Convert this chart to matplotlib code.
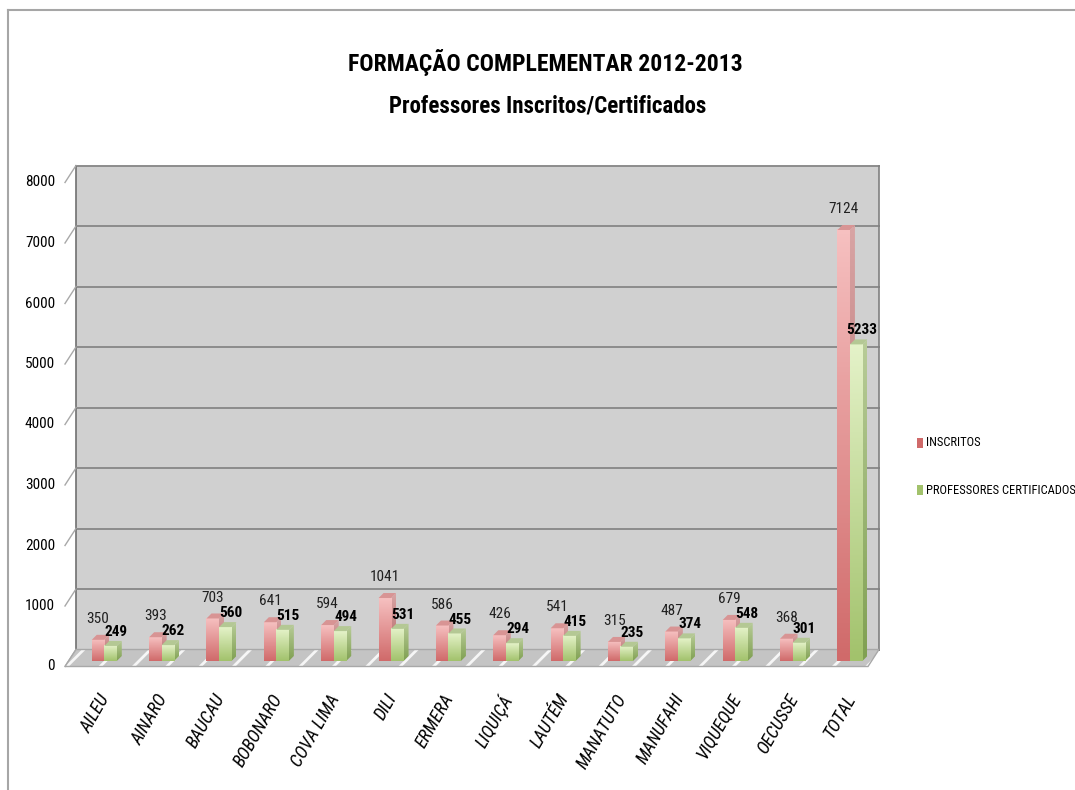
import numpy as np
import matplotlib.pyplot as plt
from matplotlib import font_manager
from matplotlib.patches import Polygon, Rectangle
from matplotlib.lines import Line2D
from matplotlib.colors import LinearSegmentedColormap

# narrow sans if available, otherwise the closest installed one
installed = {f.name for f in font_manager.fontManager.ttflist}
narrow = [f for f in ['Liberation Sans Narrow', 'Roboto Condensed', 'Open Sans Condensed',
                      'Noto Sans Condensed', 'Lato', 'Roboto'] if f in installed]
plt.rcParams['font.family'] = narrow[:1] + ['DejaVu Sans']
plt.rcParams['hatch.linewidth'] = 2.0

districts = ['AILEU', 'AINARO', 'BAUCAU', 'BOBONARO', 'COVA LIMA', 'DILI', 'ERMERA',
             'LIQUIÇÁ', 'LAUTÉM', 'MANATUTO', 'MANUFAHI', 'VIQUEQUE', 'OECUSSE', 'TOTAL']
inscritos = [350, 393, 703, 641, 594, 1041, 586, 426, 541, 315, 487, 679, 368, 7124]
certificados = [249, 262, 560, 515, 494, 531, 455, 294, 415, 235, 374, 548, 301, 5233]
y_ticks = [0, 1000, 2000, 3000, 4000, 5000, 6000, 7000, 8000]
series_names = ['INSCRITOS', 'PROFESSORES CERTIFICADOS']

W, H, DPI = 1075, 790, 100
fig = plt.figure(figsize=(W / DPI, H / DPI), dpi=DPI)

# axes cover the front plane of the bars (pixel rows/cols)
x0px, x1px = 67, 870
y0px, y1px = 661, 177
ax = fig.add_axes([x0px / W, 1 - y0px / H, (x1px - x0px) / W, (y0px - y1px) / H])
xmin, xmax, ymax = -0.65, 13.35, 8000
ax.axis('off')

sx = (x1px - x0px) / (xmax - xmin)
sy = (y0px - y1px) / ymax


def off(dxp, dyp):
    # pixel offset -> data offset
    return dxp / sx, dyp / sy


wx, wy = off(9, 11.5)     # back wall
fx, fy = off(-2, -5.5)    # front edge of floor / side wall
bdx, bdy = off(5, 5)      # bar depth
bw = 12.5 / sx            # bar width

# back wall + grid
ax.add_patch(Rectangle((xmin + wx, wy), xmax - xmin, ymax, facecolor='#d0d0d0',
                       edgecolor='none', zorder=0, clip_on=False))
for v in y_ticks:
    ax.add_line(Line2D([xmin + wx, xmax + wx], [v + wy, v + wy], color='#8c8c8c',
                       lw=1.4, zorder=1, clip_on=False))
ax.add_line(Line2D([xmin + wx, xmin + wx], [wy, ymax + wy], color='#707070', lw=1.2,
                   zorder=1, clip_on=False))
ax.add_line(Line2D([xmax + wx, xmax + wx], [wy, ymax + wy], color='#808080', lw=1.2,
                   zorder=1, clip_on=False))

# left side wall
ax.add_patch(Polygon([(xmin + fx, fy), (xmin + fx, ymax + fy), (xmin + wx, ymax + wy),
                      (xmin + wx, wy)], closed=True, facecolor='white', edgecolor='none',
                     zorder=0, clip_on=False))
for v in y_ticks:
    ax.add_line(Line2D([xmin + fx, xmin + wx], [v + fy, v + wy], color='#a8a8a8',
                       lw=1.0, zorder=1, clip_on=False))

# floor
floor = [(xmin + fx, fy), (xmax + fx, fy), (xmax + wx, wy), (xmin + wx, wy)]
ax.add_patch(Polygon(floor, closed=True, facecolor='#c4c4c4', edgecolor='#f6f6f6',
                     hatch='/', lw=0, zorder=1, clip_on=False))
ax.add_patch(Polygon(floor, closed=True, facecolor='none', edgecolor='#a8a8a8',
                     lw=1.0, zorder=1, clip_on=False))

styles = [
    dict(front=('#d06a6a', '#f6c0c0'), side=('#b06060', '#d8a4a4'), top='#d89494'),
    dict(front=('#a2c26c', '#e4f2c8'), side=('#80a052', '#b8cc98'), top='#b4c894'),
]
grad = np.linspace(0, 1, 64).reshape(-1, 1)


def draw_bar(x, v, st, z):
    cm_front = LinearSegmentedColormap.from_list('f', st['front'])
    cm_side = LinearSegmentedColormap.from_list('s', st['side'])
    ax.imshow(grad, extent=(x, x + bw, 0, v), origin='lower', cmap=cm_front,
              aspect='auto', interpolation='bilinear', zorder=z, clip_on=False)
    side = Polygon([(x + bw, 0), (x + bw + bdx, bdy), (x + bw + bdx, v + bdy), (x + bw, v)],
                   closed=True, facecolor='none', edgecolor='none')
    ax.add_patch(side)
    im = ax.imshow(grad, extent=(x + bw, x + bw + bdx, 0, v + bdy), origin='lower',
                   cmap=cm_side, aspect='auto', interpolation='bilinear', zorder=z - 0.5)
    im.set_clip_path(side)
    ax.add_patch(Polygon([(x, v), (x + bw, v), (x + bw + bdx, v + bdy), (x + bdx, v + bdy)],
                         closed=True, facecolor=st['top'], edgecolor='none', zorder=z,
                         clip_on=False))


for i, (a, b) in enumerate(zip(inscritos, certificados)):
    draw_bar(i - bw, a, styles[0], 3)
    draw_bar(i, b, styles[1], 4)
    ax.annotate(str(a), xy=(i - bw / 2, a), xytext=(0, 10), textcoords='offset points',
                ha='center', va='bottom', fontsize=11, color='#202020', zorder=6)
    ax.annotate(str(b), xy=(i + bw / 2, b), xytext=(4, 5), textcoords='offset points',
                ha='center', va='bottom', fontsize=11, fontweight='bold', color='black',
                zorder=6)
    lx, ly = off(-6, -30)
    ax.text(i + lx, ly, districts[i], ha='right', va='top', rotation=60,
            rotation_mode='anchor', style='italic', fontsize=13, color='black')

# value axis labels on the front plane
for v in y_ticks:
    lx, _ = off(-10, 0)
    ax.text(xmin + fx + lx, v + fy, str(v), ha='right', va='center', fontsize=11,
            color='black')

ax.set_xlim(xmin, xmax)
ax.set_ylim(0, ymax)

# title
fig.text(545 / W, 1 - 62 / H, 'FORMAÇÃO COMPLEMENTAR 2012-2013', ha='center', va='center',
         fontsize=17, fontweight='bold')
fig.text(548 / W, 1 - 106 / H, 'Professores Inscritos/Certificados', ha='center',
         va='center', fontsize=16.5, fontweight='bold')

# legend
for k, (name, yc) in enumerate(zip(series_names, [443, 490])):
    fig.patches.append(Rectangle((917 / W, 1 - (yc + 5) / H), 6 / W, 10 / H,
                                 transform=fig.transFigure, facecolor=styles[k]['front'][0],
                                 edgecolor='none'))
    fig.text(926 / W, 1 - yc / H, name, ha='left', va='center', fontsize=9)

# chart frame
fig.add_artist(Line2D([8 / W, 1], [1 - 10 / H, 1 - 10 / H], color='#a6a6a6', lw=1.5,
                      transform=fig.transFigure))
fig.add_artist(Line2D([8 / W, 8 / W], [0, 1 - 10 / H], color='#a6a6a6', lw=1.5,
                      transform=fig.transFigure))

fig.savefig('out.png', dpi=DPI)
